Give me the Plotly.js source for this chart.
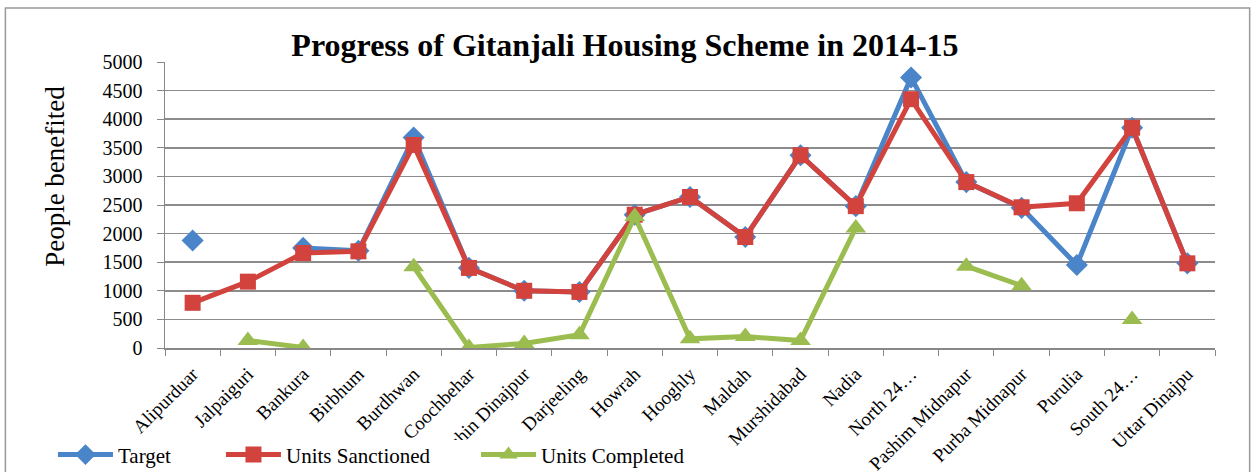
<!DOCTYPE html>
<html>
<head>
<meta charset="utf-8">
<script src="https://cdn.plot.ly/plotly-3.0.1.min.js"></script>
<style>
  body { margin: 0; background: #fff; }
  #chart { width: 1255px; height: 472px; }
</style>
</head>
<body>
<div id="chart"></div>
<script>
// districts of West Bengal, as labelled in the chart
var districts = ['Alipurduar', 'Jalpaiguri', 'Bankura', 'Birbhum', 'Burdhwan', 'Coochbehar',
    'Dakshin Dinajpur', 'Darjeeling', 'Howrah', 'Hooghly', 'Maldah', 'Murshidabad', 'Nadia',
    'North 24…', 'Pashim Midnapur', 'Purba Midnapur', 'Purulia', 'South 24…', 'Uttar Dinajpu'];

var target    = [1880, null, 1750, 1700, 3680, 1400, 1000, 980, 2330, 2640, 1940, 3370, 2480,
                 4730, 2900, 2450, 1450, 3850, 1480];
var sanctioned = [790, 1160, 1660, 1690, 3550, 1400, 1000, 980, 2330, 2640, 1940, 3370, 2480,
                 4350, 2900, 2460, 2530, 3850, 1480];
var completed = [null, 130, 10, null, 1420, 10, 80, 230, 2300, 160, 200, 130, 2100,
                 null, 1430, 1090, null, 500, null];

var FONT = 'Liberation Serif, Times New Roman, serif';

function series(name, y, color, symbol, size, legendId) {
    return {
        x: districts, y: y, name: name, type: 'scatter', mode: 'lines+markers',
        connectgaps: false, legend: legendId,
        line: {color: color, width: 5},
        marker: {color: color, symbol: symbol, size: size}
    };
}

var data = [
    series('Target', target, '#4a84c9', 'diamond', 17, 'legend'),
    series('Units Sanctioned', sanctioned, '#d2433e', 'square', 16, 'legend2'),
    series('Units Completed', completed, '#9bbd4f', 'triangle-up', 18, 'legend3')
];

// one legend box per series so the entries sit where the original has them
function legendAt(x) {
    return {
        orientation: 'h', x: x, y: -0.374, xanchor: 'left', yanchor: 'middle',
        font: {size: 21}, bgcolor: 'rgba(0,0,0,0)', itemwidth: 55
    };
}

var layout = {
    width: 1255, height: 472,
    margin: {l: 165, r: 40, t: 62, b: 124, autoexpand: false},
    paper_bgcolor: '#fff', plot_bgcolor: '#fff',
    font: {family: FONT, color: '#000', size: 15},
    showlegend: true,
    title: {
        text: '<b>Progress of Gitanjali Housing Scheme in 2014-15</b>',
        font: {family: FONT, size: 32, color: '#000'},
        xref: 'container', yref: 'container', x: 0.498, y: 0.905,
        xanchor: 'center', yanchor: 'middle'
    },
    xaxis: {
        type: 'category', range: [-0.5, 18.5], tickangle: -45, tickson: 'boundaries',
        ticks: 'outside', ticklen: 6, tickcolor: '#888', ticklabelstandoff: 6,
        showline: true, linecolor: '#888', linewidth: 1.5,
        showgrid: false, tickfont: {size: 19}, automargin: false
    },
    yaxis: {
        range: [0, 5000], dtick: 500, showgrid: true,
        gridcolor: '#8c8c8c', gridwidth: 1.5,
        showline: true, linecolor: '#888', linewidth: 1.5,
        ticks: 'outside', ticklen: 7, tickcolor: '#888', ticklabelstandoff: 10,
        tickfont: {size: 20}, zeroline: false, automargin: false
    },
    legend: legendAt(-0.1067),
    legend2: legendAt(0.0533),
    legend3: legendAt(0.2962),
    annotations: [{
        text: 'People benefited', textangle: -90, showarrow: false,
        xref: 'paper', yref: 'paper', x: -0.105, y: 0.601,
        xanchor: 'center', yanchor: 'middle', font: {size: 27}
    }],
    shapes: [
        // legend band: in the original it hides the start of the long label
        {
            type: 'rect', xref: 'paper', yref: 'paper', layer: 'above',
            x0: -0.1095, x1: 0.5095, y0: -0.434, y1: -0.322,
            fillcolor: '#fff', line: {width: 0}
        },
        {
            type: 'rect', xref: 'paper', yref: 'paper',
            x0: -0.152, x1: 1.033, y0: -0.5, y1: 1.189,
            line: {color: '#999', width: 1.5}
        }
    ]
};

Plotly.newPlot('chart', data, layout, {displayModeBar: false, staticPlot: true});
</script>
</body>
</html>
